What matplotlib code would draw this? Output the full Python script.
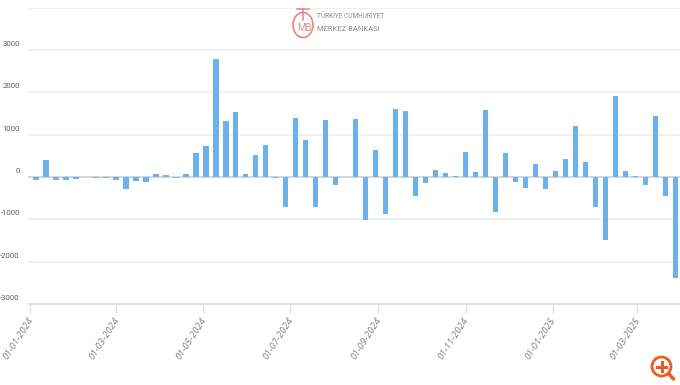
import pandas as pd
import matplotlib
matplotlib.use("Agg")
import matplotlib.pyplot as plt
import matplotlib.patches as mpatches
from matplotlib.transforms import ScaledTranslation

plt.rcParams["font.family"] = ["Open Sans", "DejaVu Sans"]

start_date = "2024-01-05"
values = [
    -70, 395, -70, -70, -40, 0, -25, -25, -70, -285, -90, -110, 70, 45, -15, 70,
    567, 740, 2795, 1315, 1527, 70, 520, 764, -20, -710, 1386, 866, -710, 1339, -180,
    -10, 1362, -1024, 645, -882, 1606, 1559, -456, -135, 173, 100, 25, 590, 125, 1582,
    -827, 567, -110, -260, 300, -283, 150, 425, 1213, 346, -709, -1496, 1905, 150, 25,
    -180, 1433, -456, -2386,
]
tick_dates = ["2024-01-01", "2024-03-01", "2024-05-01", "2024-07-01",
              "2024-09-01", "2024-11-01", "2025-01-01", "2025-03-01"]
tick_labels = ["01-01-2024", "01-03-2024", "01-05-2024", "01-07-2024",
               "01-09-2024", "01-11-2024", "01-01-2025", "01-03-2025"]
y_ticks = [-3000, -2000, -1000, 0, 1000, 2000, 3000]
y_labels = ["-3000", "-2000", "-1000", "0", "1000", "2000", "3000"]
grid_levels = [-2000, -1000, 1000, 2000, 3000, 4000]

W, H = 680, 385
dates = pd.date_range(start_date, periods=len(values), freq="7D")

fig = plt.figure(figsize=(W / 100, H / 100), dpi=100, facecolor="white")
ax = fig.add_axes([28.3 / W, (H - 304) / H, (W - 28.3) / W, 296.5 / H])

for g in grid_levels:
    ax.axhline(g, color="#eeeeee", lw=1.2, zorder=1)
ax.axhline(0, color="#cfcfcf", lw=1.2, zorder=1)
ax.bar(dates, values, width=3.8, color="#6cb0ec", zorder=2)

ax.set_ylim(-3000, 4000)
ax.set_xlim(pd.Timestamp("2024-01-01") - pd.Timedelta(days=1.4),
            pd.Timestamp("2024-01-01") + pd.Timedelta(days=455.3))
for side in ["top", "right", "left"]:
    ax.spines[side].set_visible(False)
ax.spines["bottom"].set_color("#dcdcea")
ax.spines["bottom"].set_linewidth(1.2)

ax.set_yticks(y_ticks, y_labels)
ax.tick_params(axis="y", length=0, pad=6, labelsize=5.6, labelcolor="#5c5c5c")
up = ScaledTranslation(0, 3 / 100, fig.dpi_scale_trans)
for lab in ax.get_yticklabels():
    lab.set_family("Roboto")
    lab.set_verticalalignment("bottom")
    lab.set_transform(lab.get_transform() + up)

ax.set_xticks(pd.to_datetime(tick_dates), tick_labels)
ax.tick_params(axis="x", length=6.5, width=1, color="#dcdcea", pad=2,
               labelsize=6.8, labelcolor="#808080")
left = ScaledTranslation(-2.5 / 100, 0, fig.dpi_scale_trans)
for lab in ax.get_xticklabels():
    lab.set_rotation(57)
    lab.set_rotation_mode("anchor")
    lab.set_ha("right")
    lab.set_va("top")
    lab.set_style("italic")
    lab.set_transform(lab.get_transform() + left)

# overlay in pixel coordinates for the logo and zoom icon
ov = fig.add_axes([0, 0, 1, 1], facecolor="none")
ov.set_xlim(0, W)
ov.set_ylim(H, 0)
ov.axis("off")

red = "#ea8a92"
ov.add_patch(mpatches.Ellipse((303, 25), 20, 25, fill=False, ec=red, lw=1.3))
ov.plot([297, 309], [9, 9], color=red, lw=1.2)
ov.plot([303, 303], [9, 20], color=red, lw=1.2)
ov.text(305, 28, "MB", color=red, fontsize=7, ha="center", va="center", family="Roboto")
ov.text(317, 17, "TÜRKİYE CUMHURİYET", color="#8a8a8a", fontsize=4.7, ha="left", va="center",
        family="Roboto")
ov.text(317, 29, "MERKEZ BANKASI", color="#8a8a8a", fontsize=5.5, ha="left", va="center",
        family="Roboto")

orange = "#ee5a24"
ov.add_patch(mpatches.Circle((661.5, 366.5), 9.5, fill=False, ec=orange, lw=2))
ov.plot([668.5, 673.5], [373.5, 379], color=orange, lw=2.6, solid_capstyle="round")
ov.plot([657, 666], [366.5, 366.5], color=orange, lw=2.2)
ov.plot([661.5, 661.5], [362, 371], color=orange, lw=2.2)

fig.savefig("out.png", dpi=100, facecolor="white")
